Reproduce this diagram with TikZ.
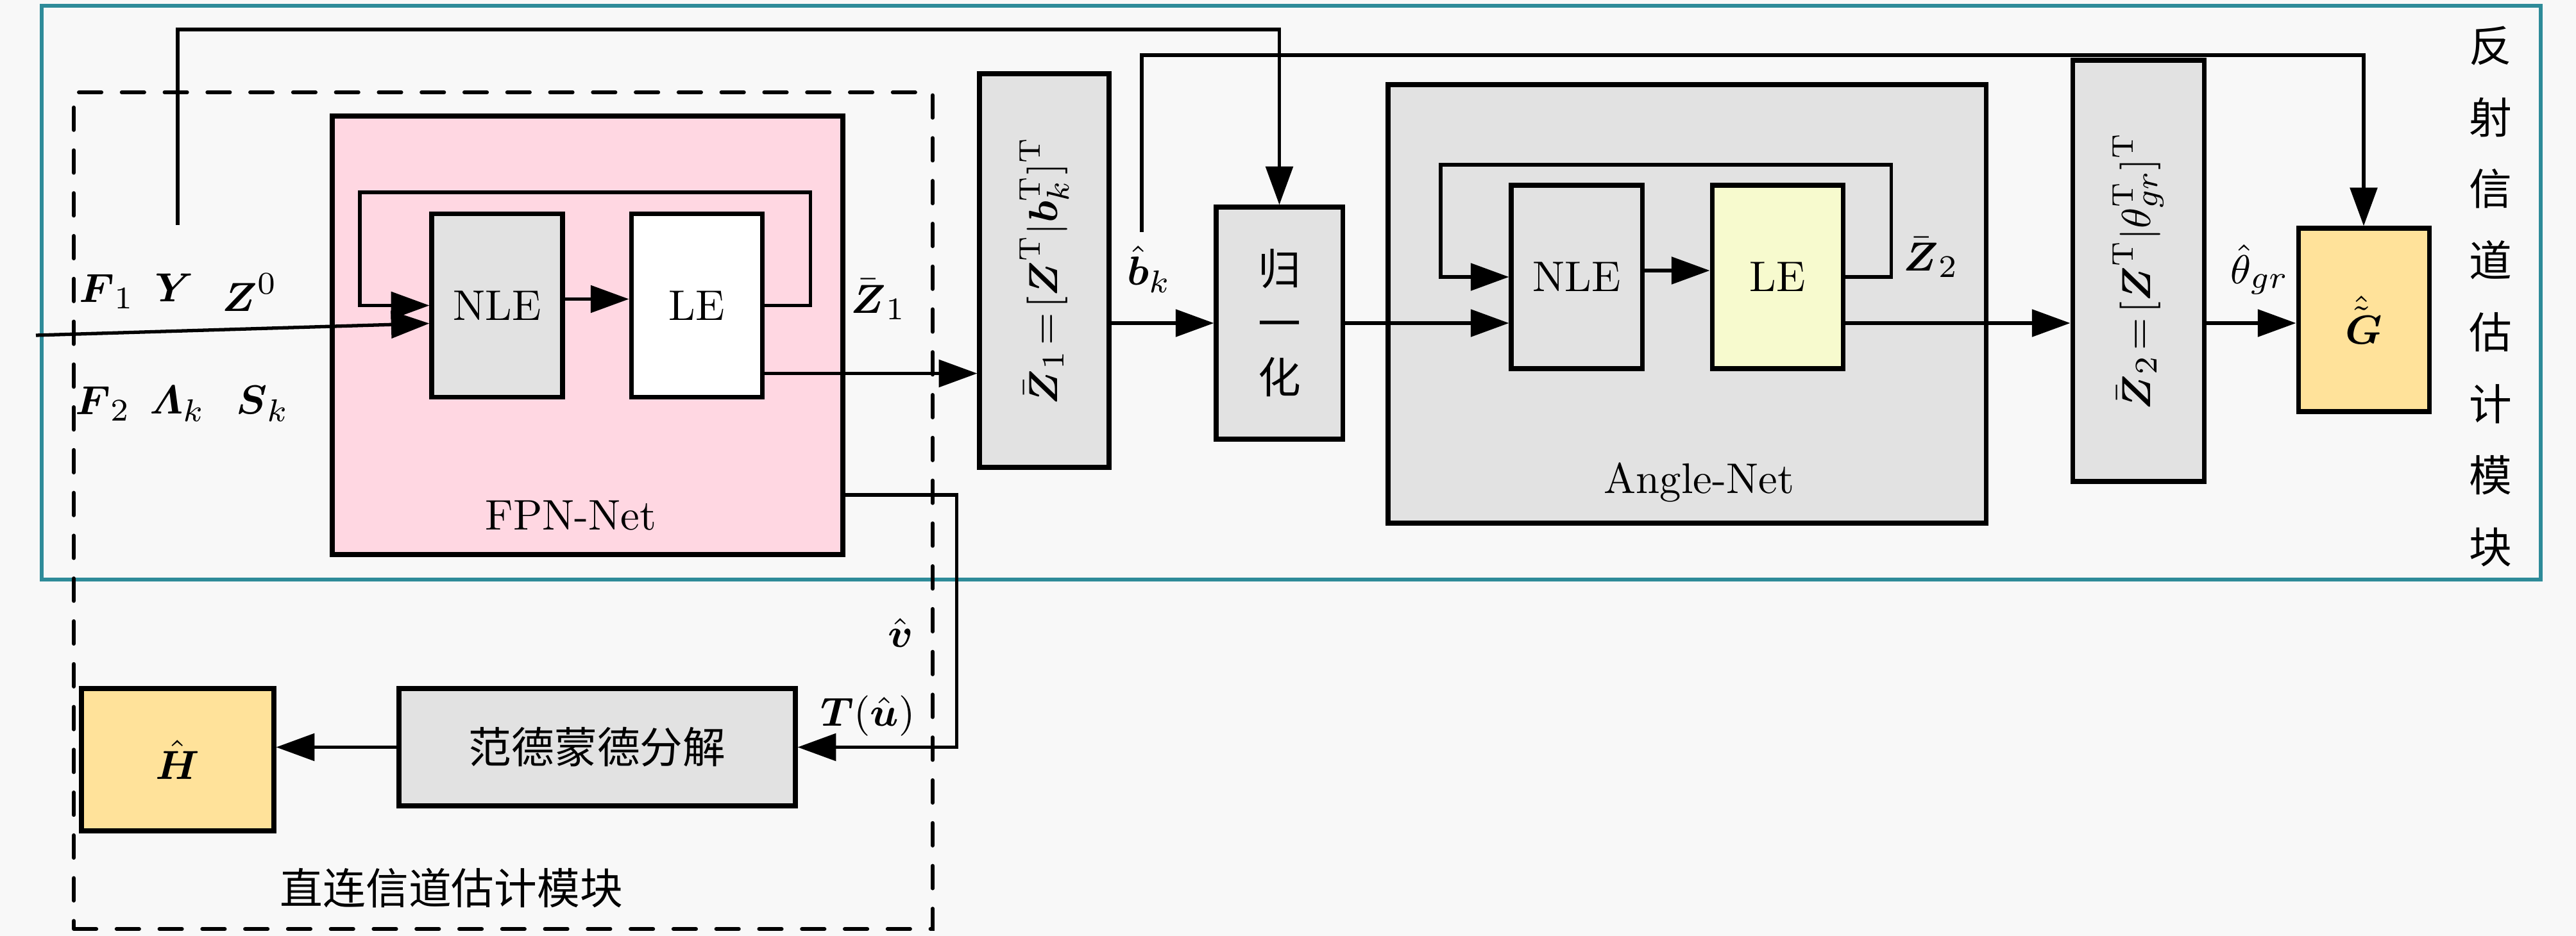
\documentclass[tikz,border=0pt]{standalone}
\usepackage{amsmath,amssymb}
\usepackage{fontspec}
\newfontfamily\cjk{Noto Sans CJK SC}
\usetikzlibrary{positioning,arrows.meta,calc}

\definecolor{bgc}{RGB}{248,248,248}
\definecolor{tealc}{RGB}{46,139,153}
\definecolor{pinkc}{RGB}{255,215,226}
\definecolor{grayc}{RGB}{226,226,226}
\definecolor{lemonc}{RGB}{247,250,206}
\definecolor{goldc}{RGB}{255,226,154}

\begin{document}
\begin{tikzpicture}[
  >={Triangle[length=8.5pt,width=6pt]},
  font=\fontsize{9.5pt}{11.4pt}\selectfont,
  wire/.style={line width=0.75pt},
  box/.style={draw, line width=1pt, inner sep=0pt},
  frame/.style={draw=tealc, line width=0.8pt, minimum width=19.48cm, minimum height=4.475cm},
  dashbox/.style={draw, line width=0.85pt, dash pattern=on 5pt off 4.5pt, line cap=round, minimum width=6.695cm, minimum height=6.525cm},
  net/.style={box, minimum height=3.42cm},
  cell/.style={box, fill=grayc, minimum width=1.02cm, minimum height=1.43cm},
  tallbox/.style={box, fill=grayc, minimum width=1.02cm},
  outbox/.style={box, fill=goldc},
  cjkt/.style={font=\cjk\fontsize{9.5pt}{11.4pt}\selectfont}
]
\fill[bgc] (0,0) rectangle (20.08,7.3);
\useasboundingbox (0,0) rectangle (20.08,7.3);

% module frames
\node[frame] (refl) at (10.065,5.0175) {};
\node[dashbox] (direct) at (3.9225,3.3175) {};
\node[cjkt, align=center, font=\cjk\fontsize{9.5pt}{15.9pt}\selectfont] (refllab) at (19.415,4.9875)
  {反\\射\\信\\道\\估\\计\\模\\块};
\node[cjkt] (dlab) at (3.52,0.375) {直连信道估计模块};

% FPN-Net
\node[net, fill=pinkc, minimum width=3.98cm] (fpn) at (4.58,4.685) {};
\node (fpnlab) at (4.45,3.28) {FPN-Net};
\node[cell] (nle1) at (3.875,4.9175) {NLE};
\node[cell, fill=white, right=0.5cm of nle1] (le1) {LE};

% Angle-Net
\node[net, fill=grayc, minimum width=4.66cm] (ang) at (13.15,4.93) {};
\node (anglab) at (13.245,3.54) {Angle-Net};
\node[cell] (nle2) at (12.29,5.14) {NLE};
\node[cell, fill=lemonc, right=0.51cm of nle2] (le2) {LE};

% stacking and normalisation
\node[tallbox, minimum width=1.01cm, minimum height=3.07cm] (z1) at (8.14,5.19) {};
\node[rotate=90] (z1txt) at (z1) {$\bar{\boldsymbol{Z}}_1\!=\![\boldsymbol{Z}^{\mathrm{T}}|\boldsymbol{b}_k^{\mathrm{T}}]^{\mathrm{T}}$};
\node[box, fill=grayc, minimum width=0.985cm, minimum height=1.81cm, cjkt, align=center,
  font=\cjk\fontsize{9.5pt}{12pt}\selectfont] (norm) at (9.9725,4.78) {归\\一\\化};
\node[tallbox, minimum width=1.025cm, minimum height=3.285cm] (z2) at (16.6675,5.1875) {};
\node[rotate=90] (z2txt) at (z2) {$\bar{\boldsymbol{Z}}_2\!=\![\boldsymbol{Z}^{\mathrm{T}}|\theta_{gr}^{\mathrm{T}}]^{\mathrm{T}}$};

% outputs
\node[outbox, minimum width=1.02cm, minimum height=1.43cm] (g) at (18.425,4.805) {$\hat{\tilde{\boldsymbol{G}}}$};
\node[box, fill=grayc, minimum width=3.09cm, minimum height=0.915cm, cjkt] (vdm) at (4.655,1.4725) {范德蒙德分解};
\node[outbox, minimum width=1.5cm, minimum height=1.11cm] (h) at (1.385,1.375) {$\hat{\boldsymbol{H}}$};

% inputs
\node (f1) at (0.835,5.025) {$\boldsymbol{F}_1$};
\node (ylab) at (1.36,5.055) {$\boldsymbol{Y}$};
\node (z0) at (1.95,5.02) {$\boldsymbol{Z}^0$};
\node (f2) at (0.805,4.15) {$\boldsymbol{F}_2$};
\node (lam) at (1.385,4.15) {$\boldsymbol{\varLambda}_k$};
\node (sk) at (2.05,4.15) {$\boldsymbol{S}_k$};

% signal labels
\node (z1lab) at (6.85,4.965) {$\bar{\boldsymbol{Z}}_1$};
\node (bk) at (8.96,5.2) {$\hat{\boldsymbol{b}}_k$};
\node (z2lab) at (15.055,5.295) {$\bar{\boldsymbol{Z}}_2$};
\node (th) at (17.615,5.2) {$\hat{\theta}_{gr}$};
\node (v) at (7.02,2.365) {$\hat{\boldsymbol{v}}$};
\node (tu) at (6.765,1.715) {$\boldsymbol{T}(\hat{\boldsymbol{u}})$};

\coordinate (in) at (0.28,4.685);
\coordinate (ytap) at (1.385,5.545);
\coordinate (btap) at (8.9,5.49);

% connections
\draw[wire,->] (in) -- ([yshift=-0.14cm]nle1.west);
\draw[wire,->] ([yshift=0.05cm]nle1.east) -- ([yshift=0.05cm]le1.west);
\draw[wire,->] (le1.east) -- ++(0.36,0) |- (2.805,5.8) |- (nle1.west);
\draw[wire,->] ([yshift=-0.53cm]le1.east) -- ([yshift=-0.53cm]le1.east -| z1.west);
\draw[wire,->] ([yshift=-1.245cm]fpn.east) -- ++(0.87,0) |- (vdm.east);
\draw[wire,->] (vdm.west) -- (vdm.west -| h.east);
\draw[wire,->] (ytap) -- ++(0,1.525) -| (norm.north);
\draw[wire,->] (z1.east |- norm.west) -- (norm.west);
\draw[wire,->] (btap) -- ++(0,1.38) -| (g.north);
\draw[wire,->] (norm.east) -- (norm.east -| nle2.west);
\draw[wire,->] ([yshift=0.05cm]nle2.east) -- ([yshift=0.05cm]le2.west);
\draw[wire,->] (le2.east) -- ++(0.36,0) |- (11.23,6.015) |- (nle2.west);
\draw[wire,->] (le2.east |- norm.east) -- (z2.west |- norm.east);
\draw[wire,->] (z2.east |- norm.east) -- (g.west |- norm.east);

\end{tikzpicture}
\end{document}
